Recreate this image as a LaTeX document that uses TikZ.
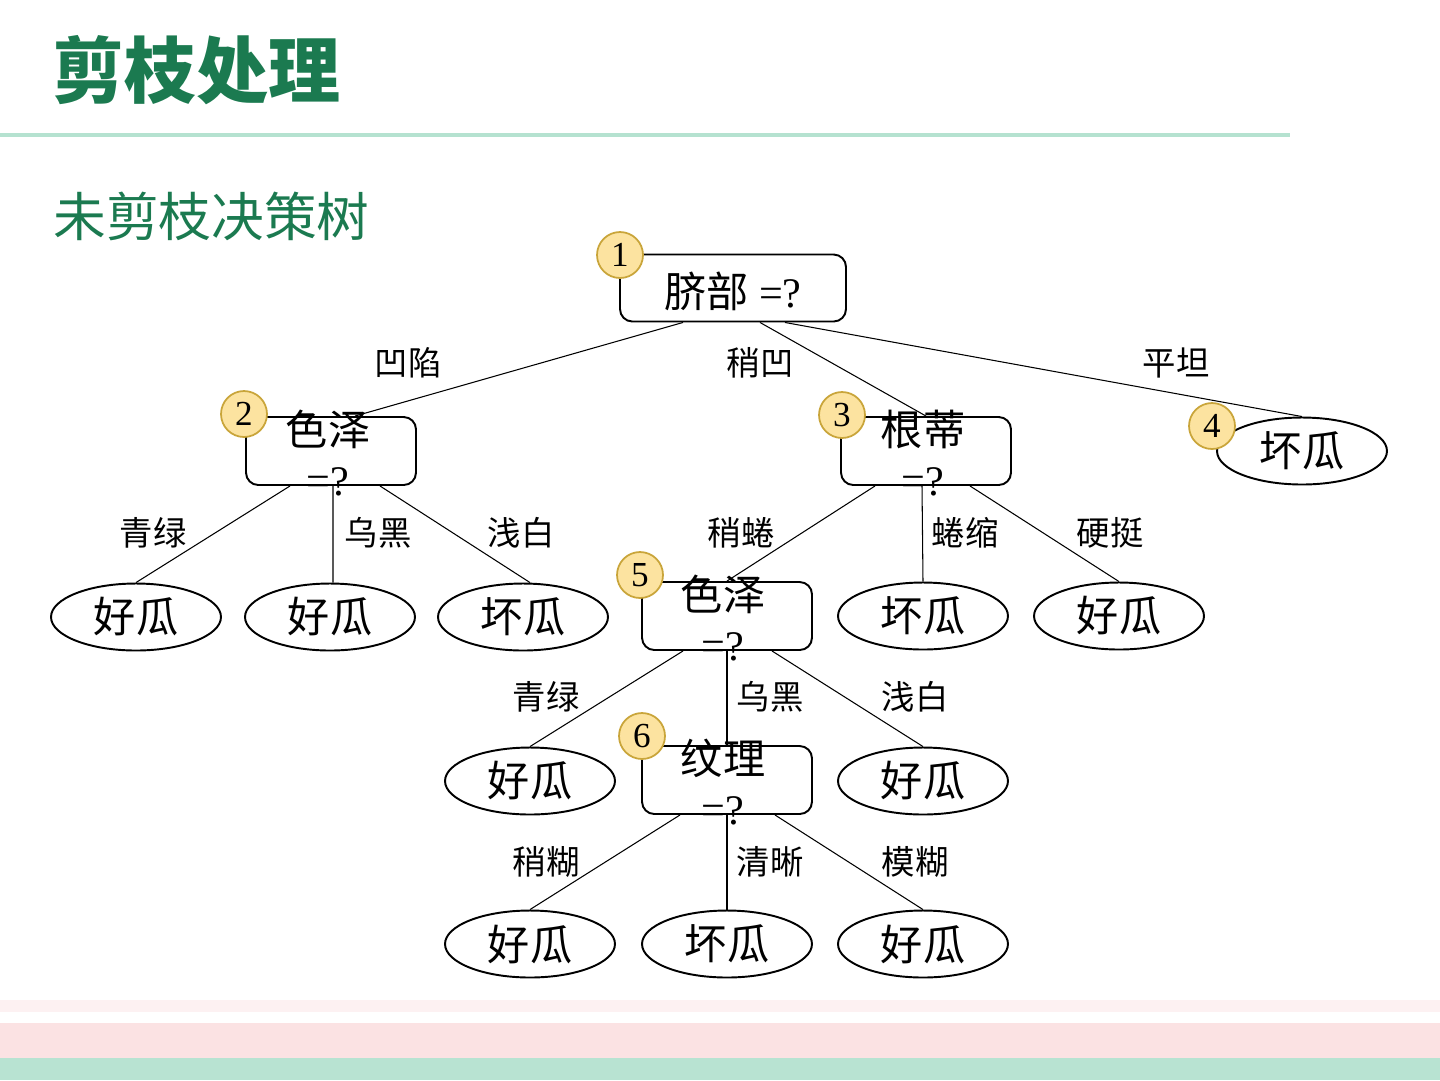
\documentclass[tikz,border=0pt]{standalone}
\usepackage{fontspec}
\setmainfont{Liberation Serif}
\newfontfamily\cjk{Noto Sans CJK SC}
\usetikzlibrary{shapes.geometric}
\definecolor{dtgreen}{HTML}{1B7A50}
\definecolor{dtrule}{HTML}{B5E2D0}
\definecolor{dtgold}{HTML}{FCE3A0}
\definecolor{dtgoldline}{HTML}{C9A53A}
\definecolor{dtpink}{HTML}{FBE2E3}
\definecolor{dtpinklight}{HTML}{FDF1F2}
\definecolor{dtmint}{HTML}{B8E3D2}
\tikzset{
  decbox/.style={draw, line width=1.1pt, rounded corners=7pt, minimum width=3.4cm,
                 minimum height=1.36cm, inner sep=0pt},
  boxtext/.style={align=center, inner sep=0pt, font=\fontsize{24pt}{28.45pt}\selectfont},
  leaf/.style={draw, ellipse, line width=1.1pt, minimum width=3.4cm, minimum height=1.34cm,
               inner sep=0pt, font=\cjk\fontsize{24pt}{28pt}\selectfont},
  stepno/.style={circle, draw=dtgoldline, fill=dtgold, line width=1pt, minimum size=0.92cm,
                 inner sep=0pt, font=\fontsize{20pt}{22pt}\selectfont},
  branch/.style={line width=0.6pt},
  branchlbl/.style={font=\cjk\fontsize{19pt}{21pt}\selectfont, inner sep=0pt},
}

\begin{document}
\begin{tikzpicture}[x=0.02cm, y=-0.02cm]
  \useasboundingbox (0,0) rectangle (1440,1080);
  % header
  \node[anchor=west, inner sep=0pt, text=dtgreen, font=\cjk\bfseries\fontsize{41pt}{44pt}\selectfont]
    (title) at (52,70) {剪枝处理};
  \draw[dtrule, line width=2pt] (0,135) -- (1290,135);
  \node[anchor=west, inner sep=0pt, text=dtgreen, font=\cjk\fontsize{30pt}{34pt}\selectfont]
    (subtitle) at (53,216) {未剪枝决策树};
  % footer bands
  \fill[dtpinklight] (0,1000) rectangle (1440,1012);
  \fill[dtpink] (0,1023) rectangle (1440,1058);
  \fill[dtmint] (0,1058) rectangle (1440,1080);

  % decision nodes
  \node[decbox, minimum width=4.52cm, minimum height=1.34cm] (root) at (733,288) {};
  \node[boxtext] (roott) at (733,291) {{\cjk 脐部} =?};
  \node[decbox] (d2) at (331,451) {};
  \node[boxtext] (d2t) at (328,453) {{\cjk 色泽}\\=?};
  \node[decbox] (d3) at (926,451) {};
  \node[boxtext] (d3t) at (923,453) {{\cjk 根蒂}\\=?};
  \node[decbox] (d5) at (727,616) {};
  \node[boxtext] (d5t) at (723,618) {{\cjk 色泽}\\=?};
  \node[decbox] (d6) at (727,780) {};
  \node[boxtext] (d6t) at (723,782) {{\cjk 纹理}\\=?};

  % leaves
  \node[leaf] (l4) at (1302,451) {坏瓜};
  \node[leaf] (l1) at (136,617) {好瓜};
  \node[leaf] (l2) at (330,617) {好瓜};
  \node[leaf] (l3) at (523,617) {坏瓜};
  \node[leaf] (l5) at (923,616) {坏瓜};
  \node[leaf] (l6) at (1119,616) {好瓜};
  \node[leaf] (l7) at (530,781) {好瓜};
  \node[leaf] (l8) at (923,781) {好瓜};
  \node[leaf] (l9) at (530,944) {好瓜};
  \node[leaf] (l10) at (727,944) {坏瓜};
  \node[leaf] (l11) at (923,944) {好瓜};

  % branches
  \draw[branch] ([xshift=-1cm]root.south) -- ([xshift=0.48cm]d2.north);
  \draw[branch] ([xshift=0.54cm]root.south) -- (d3.north);
  \draw[branch] ([xshift=1.04cm]root.south) -- (l4.north);
  \draw[branch] ([xshift=-0.82cm]d2.south) -- (l1.north);
  \draw[branch] ([xshift=0.04cm]d2.south) -- ([xshift=0.06cm]l2.north);
  \draw[branch] ([xshift=0.98cm]d2.south) -- ([xshift=0.14cm]l3.north);
  \draw[branch] ([xshift=-1.02cm]d3.south) -- (d5.north);
  \draw[branch] ([xshift=-0.08cm]d3.south) -- (l5.north);
  \draw[branch] ([xshift=0.88cm]d3.south) -- (l6.north);
  \draw[branch] ([xshift=-0.88cm]d5.south) -- (l7.north);
  \draw[branch] (d5.south) -- (d6.north);
  \draw[branch] ([xshift=0.9cm]d5.south) -- (l8.north);
  \draw[branch] ([xshift=-0.94cm]d6.south) -- (l9.north);
  \draw[branch] (d6.south) -- (l10.north);
  \draw[branch] ([xshift=0.96cm]d6.south) -- (l11.north);

  % branch labels
  \node[branchlbl] (b12) at (408,363) {凹陷};
  \node[branchlbl] (b13) at (760,363) {稍凹};
  \node[branchlbl] (b14) at (1176,363) {平坦};
  \node[branchlbl] (b21) at (153,533) {青绿};
  \node[branchlbl] (b22) at (378,533) {乌黑};
  \node[branchlbl] (b23) at (521,533) {浅白};
  \node[branchlbl] (b31) at (741,533) {稍蜷};
  \node[branchlbl] (b32) at (965,533) {蜷缩};
  \node[branchlbl] (b33) at (1110,533) {硬挺};
  \node[branchlbl] (b51) at (546,697) {青绿};
  \node[branchlbl] (b52) at (770,697) {乌黑};
  \node[branchlbl] (b53) at (915,697) {浅白};
  \node[branchlbl] (b61) at (546,862) {稍糊};
  \node[branchlbl] (b62) at (770,862) {清晰};
  \node[branchlbl] (b63) at (915,862) {模糊};

  % step numbers
  \node[stepno] (c1) at (620,255) {1};
  \node[stepno] (c2) at (244,414) {2};
  \node[stepno] (c3) at (842,415) {3};
  \node[stepno] (c4) at (1212,426) {4};
  \node[stepno] (c5) at (640,575) {5};
  \node[stepno] (c6) at (642,736) {6};
\end{tikzpicture}
\end{document}
